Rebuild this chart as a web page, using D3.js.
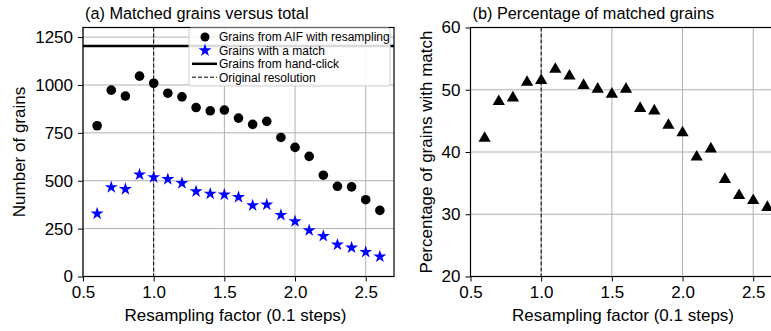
<!DOCTYPE html>
<html lang='en'>
<script src="https://d3js.org/d3.v7.min.js"></script>
<style>
body { margin: 0; background: white; }
svg { display: block; font-family: "Liberation Sans", Arial, sans-serif; }
</style>
<body>
<svg id="chart" width="771" height="331"></svg>
<script>

// resampling factors
var factors = [0.6, 0.7, 0.8, 0.9, 1.0, 1.1, 1.2, 1.3, 1.4, 1.5, 1.6, 1.7, 1.8, 1.9, 2.0, 2.1, 2.2, 2.3, 2.4, 2.5, 2.6];
// grains from AIF with resampling
var grainsTotal = [787, 973, 942, 1046, 1009, 957, 938, 882, 865, 869, 827, 794, 810, 726, 674, 627, 529, 471, 468, 401, 345];
// grains with a match
var grainsMatch = [328, 466, 456, 532, 518, 508, 487, 444, 432, 427, 414, 371, 375, 321, 288, 241, 211, 166, 151, 128, 104];
// percentage of grains with match
var pctMatch = [42.2, 48.1, 48.7, 51.2, 51.5, 53.3, 52.2, 50.7, 50.1, 49.3, 50.1, 47.0, 46.6, 44.3, 43.1, 39.2, 40.5, 35.6, 33.0, 32.2, 31.1];
var handClick = 1203;
var originalRes = 1.0;

var xTicks = [0.5, 1.0, 1.5, 2.0, 2.5];
var yTicksA = [0, 250, 500, 750, 1000, 1250];
var yTicksB = [20, 30, 40, 50, 60];

var legendItems = ["Grains from AIF with resampling", "Grains with a match", "Grains from hand-click", "Original resolution"];

var svg = d3.select("#chart");

function panel(opts) {
  var g = svg.append("g");
  var x = d3.scaleLinear().domain([0.5, 2.7]).range([opts.left, opts.left + 311]);
  var y = d3.scaleLinear().domain(opts.ydom).range([276.5, 27.5]);

  g.append("defs").append("clipPath").attr("id", opts.id)
    .append("rect").attr("x", opts.left).attr("y", 27.5).attr("width", 311).attr("height", 249);

  // grid
  g.selectAll(".vg").data(xTicks).enter().append("line")
    .attr("x1", d => x(d)).attr("x2", d => x(d)).attr("y1", 27.5).attr("y2", 276.5)
    .style("stroke", "#b0b0b0").style("stroke-width", 1);
  g.selectAll(".hg").data(opts.yticks).enter().append("line")
    .attr("x1", opts.left).attr("x2", opts.left + 311).attr("y1", d => y(d)).attr("y2", d => y(d))
    .style("stroke", "#b0b0b0").style("stroke-width", 1);

  var plot = g.append("g").attr("clip-path", "url(#" + opts.id + ")");

  // axes
  var xa = g.append("g").attr("transform", "translate(0,276.5)")
    .call(d3.axisBottom(x).tickValues(xTicks).tickFormat(d3.format(".1f")).tickSize(5).tickPadding(4));
  var ya = g.append("g").attr("transform", "translate(" + opts.left + ",0)")
    .call(d3.axisLeft(y).tickValues(opts.yticks).tickFormat(d3.format("d")).tickSize(5).tickPadding(5));
  [xa, ya].forEach(function(a) {
    a.select(".domain").remove();
    a.selectAll("line").style("stroke", "black").style("stroke-width", 1);
    a.selectAll("text").style("font-size", "17px").style("font-family", "Liberation Sans, Arial, sans-serif").attr("fill", "black");
  });

  // spines
  g.append("rect").attr("x", opts.left).attr("y", 27.5).attr("width", 311).attr("height", 249)
    .style("fill", "none").style("stroke", "black").style("stroke-width", 1.2);

  g.append("text").attr("x", opts.left + 2).attr("y", 19).style("font-size", "16.3px")
    .text(opts.title);
  g.append("text").attr("x", (opts.left + opts.left + 311) / 2 - 3).attr("y", 321).attr("text-anchor", "middle")
    .style("font-size", "17px").text("Resampling factor (0.1 steps)");
  g.append("text").attr("transform", "translate(" + opts.ylabX + ",152) rotate(-90)")
    .attr("text-anchor", "middle").style("font-size", "17px").text(opts.ylabel);

  return {g: g, plot: plot, x: x, y: y};
}

// (a)
var a = panel({id: "clipA", left: 83, ydom: [0, 1300], yticks: yTicksA,
  title: "(a) Matched grains versus total", ylabel: "Number of grains", ylabX: 25});

a.plot.append("line").attr("x1", a.x(0.5)).attr("x2", a.x(2.7))
  .attr("y1", a.y(handClick)).attr("y2", a.y(handClick))
  .style("stroke", "black").style("stroke-width", 2.5);
a.plot.append("line").attr("x1", a.x(originalRes)).attr("x2", a.x(originalRes))
  .attr("y1", 27.5).attr("y2", 276.5)
  .style("stroke", "black").style("stroke-width", 1).style("stroke-dasharray", "4,2");

var star = d3.symbol().type(d3.symbolStar).size(52);
a.plot.selectAll(".circ").data(factors).enter().append("circle")
  .attr("cx", d => a.x(d)).attr("cy", (d, i) => a.y(grainsTotal[i])).attr("r", 4.8)
  .style("fill", "black");
a.plot.selectAll(".star").data(factors).enter().append("path")
  .attr("d", star)
  .attr("transform", (d, i) => "translate(" + a.x(d) + "," + a.y(grainsMatch[i]) + ")")
  .style("fill", "blue");

// legend
var lg = a.g.append("g").attr("transform", "translate(189,28)");
lg.append("rect").attr("x", 0).attr("y", 0).attr("width", 201).attr("height", 58).attr("rx", 2)
  .style("fill", "white").style("fill-opacity", 0.85).style("stroke", "#d0d0d0").style("stroke-width", 1);
legendItems.forEach(function(t, i) {
  var yy = 9 + i * 13.4;
  if (i == 0) lg.append("circle").attr("cx", 16).attr("cy", yy).attr("r", 4.5).style("fill", "black");
  if (i == 1) lg.append("path").attr("d", star).attr("transform", "translate(16," + yy + ")").style("fill", "blue");
  if (i == 2) lg.append("line").attr("x1", 3).attr("x2", 28).attr("y1", yy).attr("y2", yy).style("stroke", "black").style("stroke-width", 2.5);
  if (i == 3) lg.append("line").attr("x1", 3).attr("x2", 28).attr("y1", yy).attr("y2", yy).style("stroke", "black").style("stroke-width", 1).style("stroke-dasharray", "4,2");
  lg.append("text").attr("x", 30).attr("y", yy + 4.3).style("font-size", "12px").text(t);
});

// (b)
var b = panel({id: "clipB", left: 470.5, ydom: [20, 60], yticks: yTicksB,
  title: "(b) Percentage of matched grains", ylabel: "Percentage of grains with match", ylabX: 432});

b.plot.append("line").attr("x1", b.x(originalRes)).attr("x2", b.x(originalRes))
  .attr("y1", 27.5).attr("y2", 276.5)
  .style("stroke", "black").style("stroke-width", 1).style("stroke-dasharray", "4,2");
var tri = d3.symbol().type(d3.symbolTriangle).size(65);
b.plot.selectAll(".tri").data(factors).enter().append("path")
  .attr("d", tri)
  .attr("transform", (d, i) => "translate(" + b.x(d) + "," + b.y(pctMatch[i]) + ")")
  .style("fill", "black");

</script>
</body>
</html>
